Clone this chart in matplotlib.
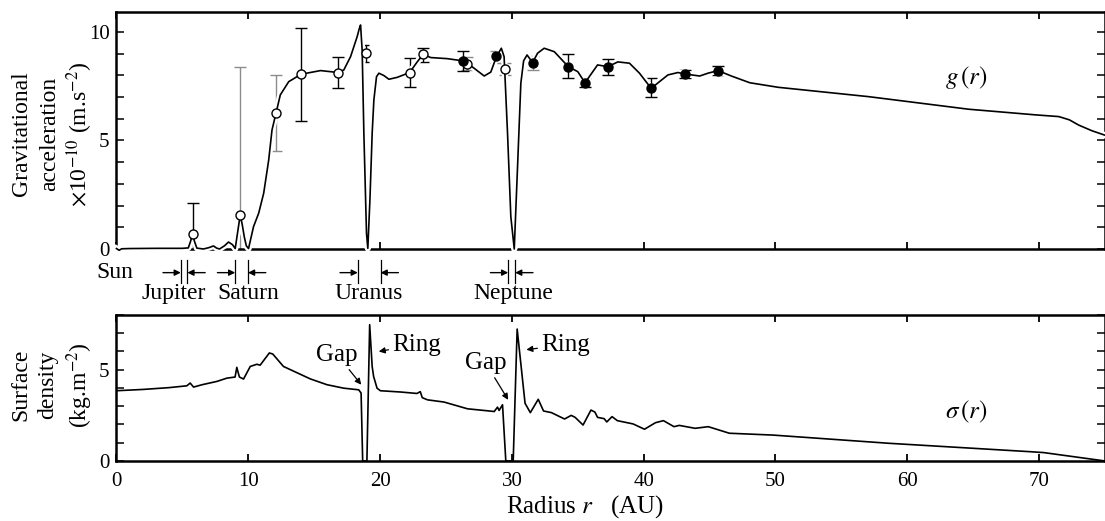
import numpy as np
import matplotlib.pyplot as plt
import matplotlib.patheffects as pe
from matplotlib.ticker import MultipleLocator

plt.rcParams['font.family'] = ['Liberation Serif', 'DejaVu Serif']
plt.rcParams['mathtext.fontset'] = 'stix'
plt.rcParams['font.size'] = 15

# g(r) curve (AU, 1e-10 m/s^2)
g_r = [0.0, 0.2, 0.4, 1.0, 3.0, 5.0, 5.45, 5.62, 5.77, 5.92, 6.1, 6.6, 7.0, 7.36, 7.6, 7.82,
       8.2, 8.5, 8.8, 9.01, 9.2, 9.39, 9.55, 9.7, 9.85, 10.02, 10.2, 10.4, 10.79, 11.17,
       11.55, 11.8, 12.1, 12.43, 13.07, 14.0, 15.48, 16.24, 16.82, 17.25, 17.76, 18.26,
       18.42, 18.52, 18.64, 18.77, 18.97, 19.07, 19.23, 19.4, 19.53, 19.73, 19.91, 20.29,
       20.67, 21.31, 22.24, 22.83, 23.28, 23.84, 25.1, 26.37, 27.13, 27.9, 28.4, 28.83,
       29.2, 29.41, 29.67, 29.92, 30.18, 30.43, 30.68, 30.89, 31.15, 31.57, 31.95, 32.45,
       33.22, 34.28, 35.0, 35.55, 36.14, 36.5, 37.28, 38.04, 38.92, 39.68, 40.57, 41.2,
       41.84, 42.6, 43.16, 44.25, 44.88, 45.64, 46.65, 48.05, 50.2, 57.05, 64.65, 69.72,
       71.5, 72.3, 73.0, 74.0, 75.2]
g_val = [0.02, -0.06, 0.01, 0.02, 0.03, 0.03, 0.05, 0.35, 0.68, 0.35, 0.04, 0.0, 0.06, 0.14, 0.04, 0.0,
         0.15, 0.32, 0.2, 0.02, 0.8, 1.57, 1.1, 0.55, 0.15, 0.02, 0.5, 1.03, 1.65, 2.57,
         4.1, 5.48, 6.25, 7.1, 7.71, 8.05, 8.22, 8.17, 8.13, 8.25, 8.86, 9.78,
         10.15, 10.32, 9.17, 5.33, 0.72, 0.03, 2.26, 5.33, 6.87, 7.94, 8.1, 7.99,
         7.82, 7.91, 8.13, 8.63, 8.97, 8.82, 8.77, 8.66, 8.33, 7.97, 8.15, 8.86,
         9.25, 8.86, 5.33, 1.49, 0.0, 3.79, 7.64, 8.67, 8.94, 8.59, 9.02, 9.25,
         9.09, 8.4, 8.17, 7.66, 8.17, 8.48, 8.4, 8.62, 8.56, 8.1, 7.4, 7.71,
         8.02, 8.13, 8.06, 7.97, 8.1, 8.22, 7.97, 7.66, 7.45, 7.02, 6.44, 6.18,
         6.1, 5.95, 5.71, 5.45, 5.2]

# open-circle data points with (lower, upper) errors
open_r = [5.77, 9.39, 12.1, 14.0, 16.82, 18.9, 22.24, 23.28, 26.58, 29.47]
open_g = [0.68, 1.57, 6.25, 8.05, 8.13, 9.05, 8.13, 8.97, 8.53, 8.29]
open_lo = [0.68, 1.57, 1.73, 2.14, 0.73, 0.42, 0.68, 0.34, 0.3, 0.28]
open_hi = [1.45, 6.83, 1.77, 2.12, 0.73, 0.35, 0.66, 0.28, 0.3, 0.3]
open_gray = [False, True, True, False, False, False, False, False, True, True]

# filled data points
fill_r = [26.32, 28.8, 31.57, 34.28, 35.55, 37.28, 40.57, 43.16, 45.64]
fill_g = [8.68, 8.88, 8.59, 8.4, 7.66, 8.4, 7.4, 8.06, 8.22]
fill_lo = [0.5, 0.3, 0.34, 0.53, 0.21, 0.37, 0.41, 0.19, 0.22]
fill_hi = [0.46, 0.26, 0.3, 0.57, 0.2, 0.34, 0.47, 0.19, 0.21]
fill_gray = [False, True, True, False, False, False, False, False, False]

# surface density curve (kg/m^2)
s_r = [0.0, 2.0, 4.0, 5.34, 5.59, 5.85, 6.5, 7.62, 8.38, 9.0, 9.13, 9.25, 9.33, 9.64,
       10.15, 10.65, 10.9, 11.6, 11.86, 12.67, 14.7, 15.97, 17.24, 18.38, 18.56, 18.68,
       19.0, 19.21, 19.4, 19.51, 19.77, 20.02, 21.55, 22.8, 23.05, 23.2, 23.6, 24.85,
       26.63, 28.15, 28.66, 28.91, 29.03, 29.29, 29.54, 30.1, 30.4, 31.0, 31.4, 32.0,
       32.4, 33.0, 34.0, 34.5, 34.8, 35.4, 36.0, 36.3, 36.5, 37.0, 37.2, 37.6, 38.0,
       39.2, 40.06, 40.9, 41.5, 42.3, 42.7, 43.9, 44.9, 46.5, 49.8, 58.6, 69.3, 70.35, 75.0]
s_val = [3.85, 3.92, 4.02, 4.12, 4.27, 4.05, 4.18, 4.36, 4.54, 4.6, 5.13, 4.8, 4.6, 4.49,
         5.18, 5.3, 5.25, 5.92, 5.86, 5.18, 4.5, 4.18, 3.99, 3.9, 3.72, 0.0,
         0.0, 7.47, 5.18, 4.63, 3.99, 3.85, 3.78, 3.7, 3.8, 3.47, 3.35, 3.23,
         2.86, 2.75, 2.71, 2.95, 2.77, 3.08, 0.0, 0.0, 7.23, 3.16, 2.65, 3.38,
         2.74, 2.65, 2.3, 2.5, 2.39, 1.97, 2.79, 2.68, 2.39, 2.32, 2.14, 2.43, 2.21,
         2.03, 1.74, 2.1, 2.21, 1.88, 1.95, 1.79, 1.88, 1.52, 1.42, 0.97, 0.51, 0.46, 0.0]

# planet markers between the panels
planet_names = ['Jupiter', 'Saturn', 'Uranus', 'Neptune']
planet_left = [4.88, 9.01, 18.31, 29.72]
planet_right = [5.38, 9.98, 20.04, 30.25]
planet_label_r = [4.33, 10.0, 19.12, 30.07]

fig = plt.figure(figsize=(11.05, 5.21), dpi=100)
ax1 = fig.add_axes([0.1054, 0.5221, 0.8946, 0.4549])
ax2 = fig.add_axes([0.1054, 0.1152, 0.8946, 0.2802])

for ax in (ax1, ax2):
    for sp in ax.spines.values():
        sp.set_linewidth(1.8)
    ax.set_xlim(0, 75)
    ax.xaxis.set_major_locator(MultipleLocator(10))
    ax.yaxis.set_minor_locator(MultipleLocator(1))
    ax.tick_params(which='both', direction='in', top=True, right=True)
    ax.tick_params(axis='x', length=5, width=1.3, pad=8)
    ax.tick_params(axis='y', which='both', length=6, width=1.1, pad=5)

# top panel
ax1.set_ylim(0, 10.92)
ax1.set_yticks([0, 5, 10])
ax1.tick_params(axis='x', labelbottom=False)

for i in range(len(open_r)):
    c = '0.55' if open_gray[i] else 'k'
    cs = 2.5 if open_r[i] == 18.9 else 4.5
    ax1.errorbar(open_r[i], open_g[i], yerr=[[open_lo[i]], [open_hi[i]]], fmt='none',
                 ecolor=c, elinewidth=1, capsize=cs, capthick=1, zorder=2)
for i in range(len(fill_r)):
    c = '0.55' if fill_gray[i] else 'k'
    ax1.errorbar(fill_r[i], fill_g[i], yerr=[[fill_lo[i]], [fill_hi[i]]], fmt='none',
                 ecolor=c, elinewidth=1, capsize=4.5, capthick=1, zorder=2)

ax1.plot(g_r, g_val, color='k', lw=1.2, zorder=3, clip_on=False,
         path_effects=[pe.Stroke(linewidth=4.5, foreground='white'), pe.Normal()])
ax1.plot(open_r, open_g, 'o', mfc='white', mec='k', ms=6.5, mew=1, zorder=4)
ax1.plot(fill_r, fill_g, 'o', mfc='k', mec='k', ms=6.5, zorder=4)
ax1.text(64.5, 7.9, r'$g\,(r)$', ha='center', va='center', fontsize=18)

# planet positions below the top panel
ax1.text(-0.1, -1.09, 'Sun', ha='center', va='center', clip_on=False, fontsize=17)
for name, r1, r2, rl in zip(planet_names, planet_left, planet_right, planet_label_r):
    ax1.plot([r1, r1], [-0.51, -1.55], color='k', lw=0.9, clip_on=False)
    ax1.plot([r2, r2], [-0.51, -1.55], color='k', lw=0.9, clip_on=False)
    ax1.annotate('', xy=(r1, -1.09), xytext=(r1 - 1.35, -1.09), annotation_clip=False,
                 arrowprops=dict(arrowstyle='-|>', color='k', lw=1, mutation_scale=9,
                                 shrinkA=0, shrinkB=0))
    ax1.annotate('', xy=(r2, -1.09), xytext=(r2 + 1.35, -1.09), annotation_clip=False,
                 arrowprops=dict(arrowstyle='-|>', color='k', lw=1, mutation_scale=9,
                                 shrinkA=0, shrinkB=0))
    ax1.text(rl, -2.05, name, ha='center', va='center', clip_on=False, fontsize=17)

# bottom panel
ax2.set_ylim(0, 8)
ax2.set_yticks([0, 5])
ax2.plot(s_r, s_val, color='k', lw=1.2, zorder=3)
ax2.text(64.5, 2.7, r'$\sigma\,(r)$', ha='center', va='center', fontsize=18)

arrow_kw = dict(arrowstyle='-|>', color='k', lw=0.9, mutation_scale=9, shrinkA=1, shrinkB=0)
ax2.annotate('Gap', xy=(18.57, 4.18), xytext=(16.75, 5.82), ha='center', va='center',
             fontsize=18, arrowprops=arrow_kw)
ax2.annotate('Ring', xy=(19.9, 6.0), xytext=(22.8, 6.37), ha='center', va='center',
             fontsize=18, arrowprops=arrow_kw)
ax2.annotate('Gap', xy=(29.72, 3.35), xytext=(28.0, 5.38), ha='center', va='center',
             fontsize=18, arrowprops=arrow_kw)
ax2.annotate('Ring', xy=(31.1, 6.1), xytext=(34.1, 6.37), ha='center', va='center',
             fontsize=18, arrowprops=arrow_kw)

# axis labels
fig.text(585 / 1105, 1 - 507 / 521, r'Radius $r$   (AU)', ha='center', va='center', fontsize=18)
ytop = 1 - 134 / 521
fig.text(22 / 1105, ytop, 'Gravitational', rotation=90, ha='center', va='center', fontsize=17)
fig.text(50 / 1105, ytop, 'acceleration', rotation=90, ha='center', va='center', fontsize=17)
fig.text(80 / 1105, ytop, r'$\times$10$^{-10}$ (m.s$^{-2}$)', rotation=90, ha='center', va='center', fontsize=17)
ybot = 1 - 385 / 521
fig.text(21 / 1105, ybot, 'Surface', rotation=90, ha='center', va='center', fontsize=17)
fig.text(48 / 1105, ybot, 'density', rotation=90, ha='center', va='center', fontsize=17)
fig.text(80 / 1105, ybot, r'(kg.m$^{-2}$)', rotation=90, ha='center', va='center', fontsize=17)

fig.savefig('out.png', dpi=100)
